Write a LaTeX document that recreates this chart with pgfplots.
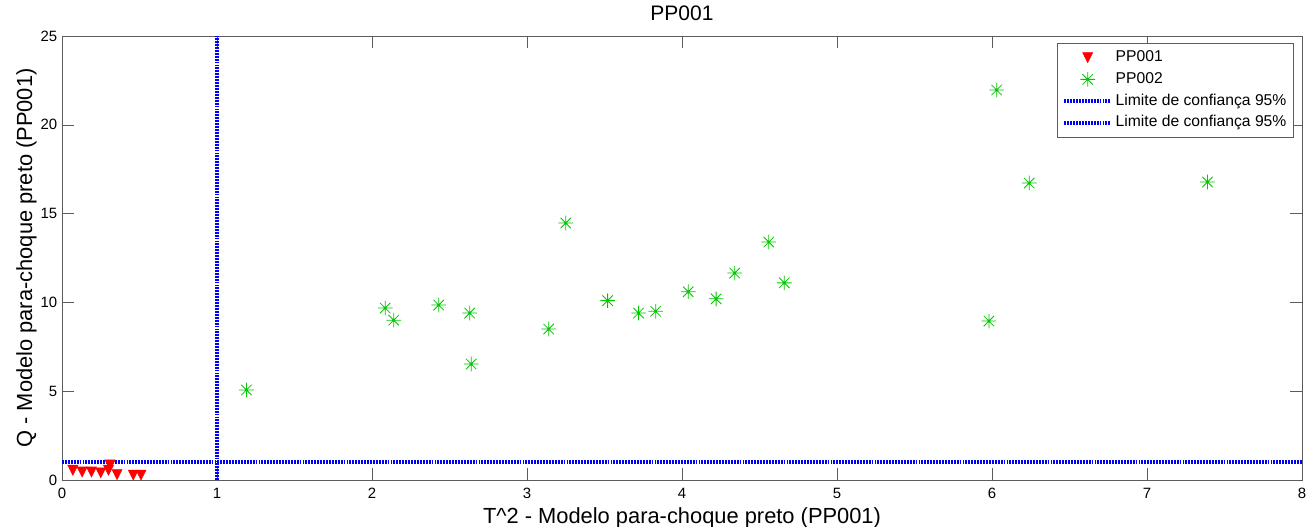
\documentclass[border=0pt]{standalone}
\usepackage{fontspec}
\setmainfont{Liberation Sans}
\usepackage{pgfplots}
\pgfplotsset{compat=1.18}
\pgfdeclareplotmark{star8}{%
 \pgfpathmoveto{\pgfqpoint{-\pgfplotmarksize}{0pt}}\pgfpathlineto{\pgfqpoint{\pgfplotmarksize}{0pt}}%
 \pgfpathmoveto{\pgfqpoint{0pt}{-\pgfplotmarksize}}\pgfpathlineto{\pgfqpoint{0pt}{\pgfplotmarksize}}%
 \pgfpathmoveto{\pgfqpoint{-0.707\pgfplotmarksize}{-0.707\pgfplotmarksize}}\pgfpathlineto{\pgfqpoint{0.707\pgfplotmarksize}{0.707\pgfplotmarksize}}%
 \pgfpathmoveto{\pgfqpoint{-0.707\pgfplotmarksize}{0.707\pgfplotmarksize}}\pgfpathlineto{\pgfqpoint{0.707\pgfplotmarksize}{-0.707\pgfplotmarksize}}%
 \pgfusepathqstroke}
\pgfdeclareplotmark{vtri}{%
 \pgfpathmoveto{\pgfqpoint{-\pgfplotmarksize}{\pgfplotmarksize}}%
 \pgfpathlineto{\pgfqpoint{\pgfplotmarksize}{\pgfplotmarksize}}%
 \pgfpathlineto{\pgfqpoint{0pt}{-\pgfplotmarksize}}%
 \pgfpathclose
 \pgfusepathqfillstroke}
\definecolor{mgreen}{rgb}{0,0.78,0}
\definecolor{axgray}{rgb}{0.36,0.36,0.36}
\begin{document}
\begin{tikzpicture}
\useasboundingbox (-46.5pt,-35.25pt) rectangle (937.5pt,360pt);
\begin{axis}[
  scale only axis,
  width=930pt, height=333pt,
  xmin=0, xmax=8, ymin=0, ymax=25,
  xtick={0,1,...,8}, ytick={0,5,...,25},
  tick align=inside, major tick length=9pt,
  axis line style={axgray}, tick style={axgray},
  /pgf/number format/assume math mode=true,
  ticklabel style={font=\fontsize{11.2}{13}\selectfont, text=black},
  xticklabel style={anchor=base, yshift=-14.25pt},
  title={PP001},
  title style={font=\fontsize{15.75}{18}\selectfont, at={(axis description cs:0.5,1)}, anchor=base, yshift=5.25pt},
  xlabel={T\^{}2 - Modelo para-choque preto (PP001)},
  ylabel={Q - Modelo para-choque preto (PP001)},
  label style={font=\fontsize{16.4}{19}\selectfont},
  xlabel style={at={(axis description cs:0.5,0)}, anchor=base, yshift=-33pt},
  ylabel style={at={(axis description cs:-0.02419,0.5)}, anchor=base},
  legend style={at={(1,1)}, anchor=north east, xshift=-6pt, yshift=-5.25pt,
    draw=axgray, font=\fontsize{11.75}{14}\selectfont,
    inner xsep=3.5pt, inner ysep=3.3pt,
    nodes={inner sep=2pt, text height=8.5pt, text depth=2.5pt},
    row sep=1.3pt, cells={anchor=west}},
  legend cell align=left,
  legend image code/.code={\draw[mark repeat=2,mark phase=2,#1] plot coordinates {(0pt,0pt) (17.5pt,0pt) (35pt,0pt)};},
  clip=false,
]
\addplot[only marks, mark=vtri, mark size=3.75pt, color=red, fill=red]
 coordinates {(0.07,0.55) (0.13,0.45) (0.19,0.45) (0.25,0.4) (0.30,0.55) (0.31,0.85) (0.355,0.3) (0.46,0.28) (0.51,0.28)};
\addlegendentry{PP001}
\addplot[only marks, mark=star8, mark size=5.5pt, color=mgreen, line width=0.6pt]
 coordinates {
 (1.19,5.07) (2.085,9.68) (2.14,9.0) (2.43,9.85) (2.63,9.4) (2.64,6.53)
 (3.14,8.5) (3.25,14.47) (3.52,10.1) (3.72,9.4) (3.83,9.5) (4.04,10.6)
 (4.22,10.2) (4.34,11.65) (4.56,13.4) (4.66,11.1) (5.98,8.95) (6.03,21.96)
 (6.24,16.72) (7.39,16.78)};
\addlegendentry{PP002}
\addplot[blue, line width=3pt, dash pattern=on 1.4pt off 0.8pt] coordinates {(0,1) (8,1)};
\addlegendentry{Limite de confiança 95\%}
\addplot[blue, line width=3pt, dash pattern=on 1.4pt off 0.8pt] coordinates {(1,0) (1,25)};
\addlegendentry{Limite de confiança 95\%}
\end{axis}
\end{tikzpicture}
\end{document}
